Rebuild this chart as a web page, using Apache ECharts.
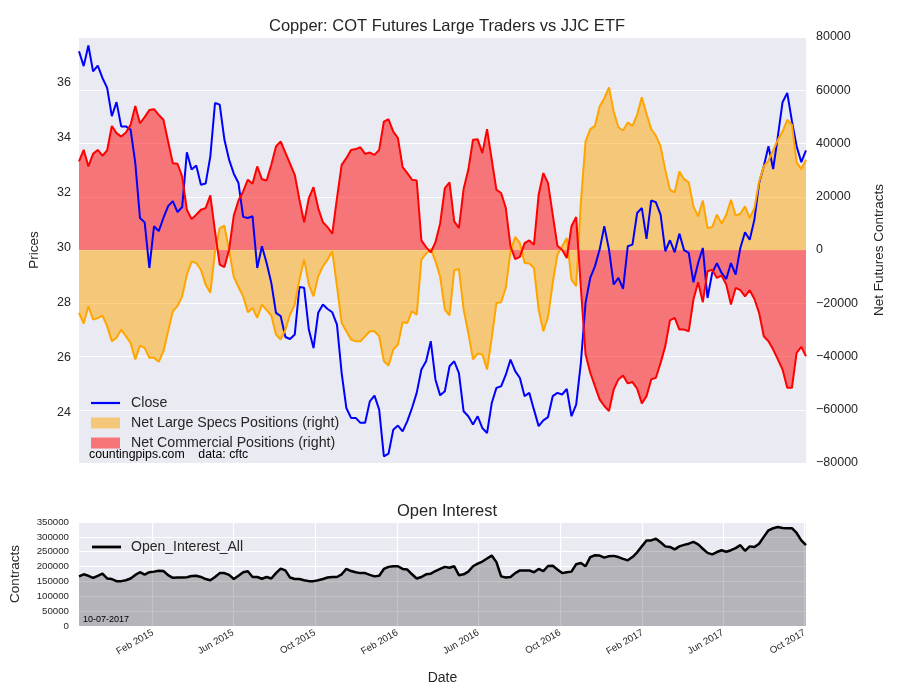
<!DOCTYPE html>
<html><head><meta charset="utf-8">
<script src="https://cdn.jsdelivr.net/npm/echarts@6/dist/echarts.min.js"></script>
<style>html,body{margin:0;padding:0;background:#fff}#c{width:900px;height:700px}</style>
</head><body><div id="c"></div>
<script>
const startDate = '2014-10-14';
const closeValues = [37.15,36.61,37.36,36.42,36.63,36.18,35.82,34.79,35.30,34.42,
34.42,34.30,33.09,31.09,30.93,29.27,30.79,30.61,31.09,31.52,
31.70,31.30,31.49,33.48,32.85,33.00,32.30,32.34,33.33,35.27,
35.21,33.94,33.21,32.70,32.36,31.13,31.09,31.15,29.27,30.06,
29.45,28.73,27.64,27.52,26.76,26.69,26.85,28.58,28.55,27.03,
26.36,27.64,27.94,27.78,27.66,27.21,25.45,24.18,23.82,23.82,
23.64,23.64,24.42,24.63,24.12,22.42,22.52,23.39,23.54,23.33,
23.70,24.18,24.73,25.58,25.88,26.61,25.21,24.64,24.79,25.70,
25.88,25.45,24.06,23.88,23.58,23.88,23.45,23.27,24.36,24.91,
24.97,25.39,25.94,25.52,25.27,24.61,24.73,24.12,23.52,23.73,
23.85,24.61,24.73,24.67,24.87,23.88,24.30,25.82,28.00,28.91,
29.33,29.94,30.79,29.94,28.67,28.91,28.51,30.06,30.12,31.27,
31.45,30.33,31.73,31.66,31.21,29.88,30.28,29.84,30.52,29.92,
29.82,28.75,29.45,30.00,28.18,29.09,29.45,29.09,28.87,29.45,
29.03,30.00,30.57,30.30,31.03,32.36,32.97,33.70,32.87,34.06,
35.30,35.64,34.61,33.70,33.12,33.55];
const specValues = [-23600,-27600,-21100,-26100,-25600,-24600,-28600,-34250,-33000,-29900,
-32400,-34900,-41100,-35900,-36750,-40500,-40500,-42000,-38000,-30500,
-23000,-21100,-17400,-9250,-4250,-4900,-7400,-13000,-16100,-500,
8250,9100,-100,-10100,-13900,-17400,-23400,-21750,-25500,-20500,
-22600,-24600,-31750,-33600,-29900,-24250,-20500,-11100,-3600,-13000,
-17400,-9900,-6100,-3600,-500,-13600,-27400,-30500,-33600,-34250,
-34250,-32400,-30500,-30500,-32400,-41750,-43400,-37400,-35500,-27100,
-27400,-23000,-24250,-3600,-1400,400,-4250,-10000,-22400,-24600,
-7600,-7100,-22400,-31100,-41100,-38900,-39250,-44900,-33000,-19900,
-19600,-14250,-500,4900,2600,-4900,-5100,-6750,-22400,-30500,
-25100,-12400,-1750,1400,4500,-11100,-13600,18000,40750,45400,
46600,53900,57000,61100,52000,46100,44900,47900,46600,50750,
57400,51100,45400,42900,38900,30100,22600,21600,29500,26600,
25400,16400,12600,18600,8250,8600,13250,9900,13250,18900,
12900,13600,16400,12000,15750,25750,31400,33600,37400,41400,
44500,48900,47000,32900,30400,33900];
const commValues = [33250,37600,31400,36100,37600,35400,37400,46600,43900,42600,
44100,47000,54100,47600,49900,52600,52900,50750,48900,40750,
32600,32400,27600,15100,11600,13250,15100,15750,20500,7000,
-5500,-6400,100,12900,18600,22000,26400,24900,31400,26600,
26100,32000,38900,40750,36600,32400,28250,18900,10400,19500,
23600,15750,10400,8600,6100,19500,32000,34500,37600,37900,
38600,36100,36600,35750,37600,48250,49100,44500,42000,31100,
28900,26400,26100,3600,1100,-900,2900,10000,23250,25400,
10750,8250,22900,30100,41400,41600,36400,45400,33900,22600,
21400,15750,1400,-3400,-2600,2600,3600,2000,20750,28900,
25100,13250,1600,100,-3000,8900,12400,-14250,-39250,-46100,
-51100,-56100,-58600,-60500,-52400,-48600,-47100,-50100,-49600,-52100,
-57600,-54900,-48600,-48000,-42400,-36100,-26400,-25500,-29900,-29900,
-30500,-18600,-12100,-19600,-8000,-7400,-10500,-9600,-13000,-20500,
-14250,-15100,-17400,-15100,-18400,-23600,-32400,-34250,-37400,-41100,
-44900,-51750,-51750,-38600,-36400,-39900];
const openInterest = [167000,174000,169000,162000,169000,176000,160000,158000,151000,151000,
154000,160000,172000,181000,173000,181000,183000,186000,185000,171000,
162000,163000,163000,164000,168000,169000,165000,158000,154000,165000,
178000,178000,172000,158000,169000,181000,184000,165000,165000,159000,
165000,160000,178000,193000,187000,163000,158000,158000,154000,151000,
151000,154000,158000,163000,165000,165000,174000,192000,185000,181000,
178000,178000,172000,167000,169000,192000,199000,201000,201000,192000,
190000,174000,160000,165000,174000,176000,185000,192000,199000,196000,
201000,171000,174000,183000,201000,210000,217000,227000,237000,215000,
167000,163000,165000,178000,187000,187000,187000,181000,192000,185000,
202000,203000,190000,178000,181000,183000,208000,212000,201000,232000,
238000,237000,230000,235000,236000,232000,226000,221000,232000,248000,
268000,288000,288000,294000,282000,268000,266000,258000,268000,273000,
277000,283000,275000,260000,246000,241000,249000,255000,250000,255000,
262000,272000,253000,268000,266000,277000,300000,322000,329000,333000,
330000,329000,329000,313000,288000,272000];
const xTickDates = ['2015-02-01','2015-06-01','2015-10-01','2016-02-01','2016-06-01','2016-10-01','2017-02-01','2017-06-01','2017-10-01'];
const xTickLabels = ['Feb 2015','Jun 2015','Oct 2015','Feb 2016','Jun 2016','Oct 2016','Feb 2017','Jun 2017','Oct 2017'];
const priceTicks = [24,26,28,30,32,34,36];

const WEEK = 7 * 86400000;
const t0 = Date.parse(startDate + 'T00:00:00Z');
const dates = closeValues.map((_, i) => t0 + i * WEEK);
const pair = arr => arr.map((v, i) => [dates[i], v]);
const tickTimes = xTickDates.map(d => Date.parse(d + 'T00:00:00Z'));
const FONT = '"Liberation Sans", Arial, sans-serif';
const TXT = '#262626';
const BG = '#EAEAF2';
const minus = v => (v < 0 ? '\u2212' + Math.abs(v) : String(v));

const chart = echarts.init(document.getElementById('c'), null, {renderer: 'canvas'});
chart.setOption({
  animation: false,
  backgroundColor: '#ffffff',
  textStyle: {fontFamily: FONT, color: TXT},
  title: [
    {text: 'Copper: COT Futures Large Traders vs JJC ETF', left: 442, top: 13, textAlign: 'center',
     textStyle: {fontSize: 16.5, fontWeight: 'normal', color: TXT, fontFamily: FONT}},
    {text: 'Open Interest', left: 442, top: 498, textAlign: 'center',
     textStyle: {fontSize: 16.5, fontWeight: 'normal', color: TXT, fontFamily: FONT}}
  ],
  grid: [
    {left: 79, right: 94, top: 37, height: 426, show: true, backgroundColor: BG, borderWidth: 0},
    {left: 79, right: 94, top: 522, height: 104, show: true, backgroundColor: BG, borderWidth: 0}
  ],
  legend: [
    {left: 86, top: 391, orient: 'vertical', itemWidth: 29, itemHeight: 11, itemGap: 6,
     textStyle: {fontSize: 14.2, color: TXT, fontFamily: FONT, padding: [0, 0, 0, 6]},
     data: [
       {name: 'Close', icon: 'path://M0,0H29V2.2H0Z', itemStyle: {color: '#0000ff'}},
       {name: 'Net Large Specs Positions (right)', icon: 'rect', itemStyle: {color: 'rgba(255,165,0,0.5)', borderWidth: 0}},
       {name: 'Net Commercial Positions (right)', icon: 'rect', itemStyle: {color: 'rgba(255,0,0,0.5)', borderWidth: 0}}
     ]},
    {left: 87, top: 535, orient: 'vertical', itemWidth: 29, itemHeight: 11,
     textStyle: {fontSize: 14, color: TXT, fontFamily: FONT, padding: [0, 0, 0, 5]},
     data: [{name: 'Open_Interest_All', icon: 'path://M0,0H29V2.8H0Z', itemStyle: {color: '#000000'}}]}
  ],
  xAxis: [
    {type: 'value', gridIndex: 0, min: dates[0], max: dates[dates.length - 1],
     axisLine: {show: false}, axisTick: {show: false}, axisLabel: {show: false}, splitLine: {show: false}},
    {type: 'value', gridIndex: 1, min: dates[0], max: dates[dates.length - 1],
     name: 'Date', nameLocation: 'middle', nameGap: 45,
     nameTextStyle: {fontSize: 14, color: TXT, fontFamily: FONT},
     axisLine: {show: false},
     axisTick: {show: false, customValues: tickTimes},
     axisLabel: {customValues: tickTimes, rotate: 30, fontSize: 9.7, color: TXT, margin: 6,
       formatter: v => { const k = tickTimes.indexOf(v); return k >= 0 ? xTickLabels[k] : ''; }},
     splitLine: {show: true, lineStyle: {color: '#ffffff', width: 1.2}}}
  ],
  yAxis: [
    {type: 'value', gridIndex: 0, min: 22.18, max: 37.67, position: 'left',
     name: 'Prices', nameLocation: 'middle', nameGap: 38,
     nameTextStyle: {fontSize: 13.5, color: TXT, fontFamily: FONT},
     axisLine: {show: false}, axisTick: {show: false},
     axisLabel: {customValues: priceTicks, fontSize: 12.5, color: TXT, margin: 8},
     splitLine: {show: false}},
    {type: 'value', gridIndex: 0, min: -80000, max: 80000, interval: 20000, position: 'right',
     name: 'Net Futures Contracts', nameLocation: 'middle', nameGap: 66, nameRotate: 90,
     nameTextStyle: {fontSize: 13.5, color: TXT, fontFamily: FONT},
     axisLine: {show: false}, axisTick: {show: false},
     axisLabel: {fontSize: 12.5, color: TXT, margin: 10, formatter: minus},
     splitLine: {show: true, lineStyle: {color: '#ffffff', width: 1.2}}},
    {type: 'value', gridIndex: 1, min: 0, max: 350000, interval: 50000,
     name: 'Contracts', nameLocation: 'middle', nameGap: 57,
     nameTextStyle: {fontSize: 13.5, color: TXT, fontFamily: FONT},
     axisLine: {show: false}, axisTick: {show: false},
     axisLabel: {fontSize: 9.7, color: TXT, margin: 10, formatter: v => String(v)},
     splitLine: {show: true, lineStyle: {color: '#ffffff', width: 1.2}}}
  ],
  series: [
    {name: 'Close', type: 'line', xAxisIndex: 0, yAxisIndex: 0, data: pair(closeValues),
     symbol: 'none', lineStyle: {color: '#0000ff', width: 2}, itemStyle: {color: '#0000ff'}},
    {name: 'Net Large Specs Positions (right)', type: 'line', xAxisIndex: 0, yAxisIndex: 1, data: pair(specValues),
     symbol: 'none', lineStyle: {color: '#ffa500', width: 2}, itemStyle: {color: '#ffa500'},
     areaStyle: {color: '#ffa500', opacity: 0.5, origin: 0}},
    {name: 'Net Commercial Positions (right)', type: 'line', xAxisIndex: 0, yAxisIndex: 1, data: pair(commValues),
     symbol: 'none', lineStyle: {color: '#ff0000', width: 2}, itemStyle: {color: '#ff0000'},
     areaStyle: {color: '#ff0000', opacity: 0.5, origin: 0}},
    {name: 'Open_Interest_All', type: 'line', xAxisIndex: 1, yAxisIndex: 2, data: pair(openInterest),
     symbol: 'none', lineStyle: {color: '#000000', width: 2.5}, itemStyle: {color: '#000000'},
     areaStyle: {color: '#000000', opacity: 0.23, origin: 0}}
  ],
  graphic: [
    {type: 'text', left: 89, top: 449, style: {text: 'countingpips.com    data: cftc', fontSize: 12.3, fontFamily: FONT, fill: '#000000'}},
    {type: 'text', left: 83, top: 615, style: {text: '10-07-2017', fontSize: 9, fontFamily: FONT, fill: '#000000'}}
  ]
});
</script></body></html>
